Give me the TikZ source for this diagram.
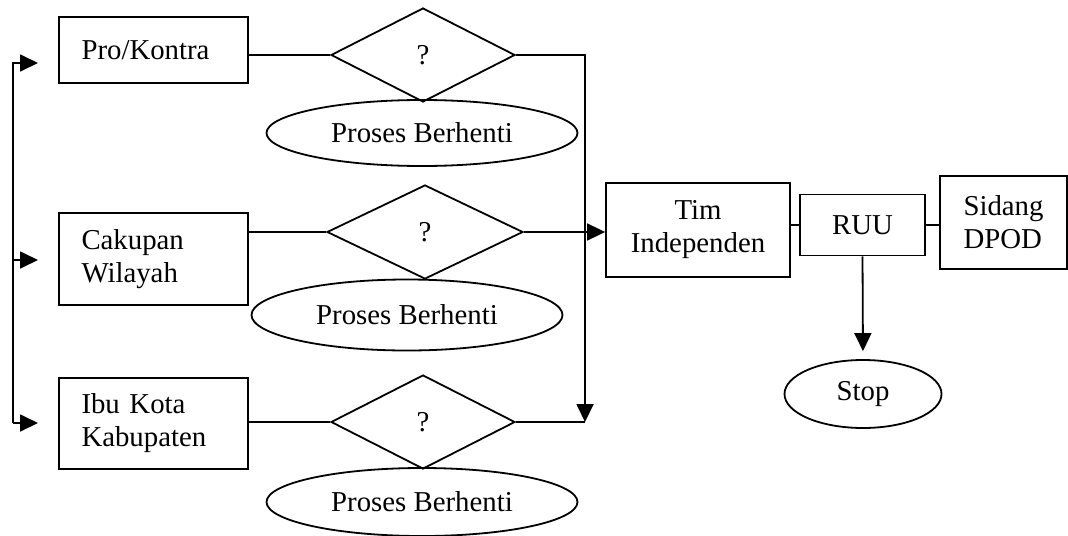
\documentclass[tikz,border=0pt]{standalone}
\usepackage{fontspec}
\setmainfont{Liberation Serif}
\usetikzlibrary{shapes.geometric,arrows.meta}

\begin{document}
\begin{tikzpicture}[x=0.5pt,y=-0.5pt,font=\fontsize{14.4}{16.5}\selectfont]

\tikzset{block/.style = {shape=rectangle,draw,line width=0.9pt,inner ysep=0pt}}
\tikzset{leftblock/.style = {block,align=left,text width=72pt,inner xsep=11.25pt}}
\tikzset{decision/.style = {shape=diamond,draw,line width=0.9pt,inner sep=0pt,minimum width=92pt,minimum height=47pt}}
\tikzset{terminal/.style = {shape=ellipse,draw,line width=0.9pt,inner sep=0pt,minimum width=155.5pt,minimum height=33pt}}
\tikzset{link/.style = {line width=0.9pt}}
\tikzset{flow/.style = {link,-{Triangle[length=9pt,width=8.5pt]}}}

\useasboundingbox (0,0) rectangle (1068,535);

% kriteria
\node[leftblock,minimum height=33pt] (pro) at (153.5,50) {Pro/Kontra};
\node[leftblock,minimum height=46pt] (cakupan) at (153.5,259) {Cakupan\\Wilayah};
\node[leftblock,minimum height=45.5pt] (ibukota) at (153.5,423.5) {Ibu Kota\\Kabupaten};

% keputusan
\node[decision] (d1) at (423,55) {?};
\node[decision,minimum width=98pt] (d2) at (425,232) {?};
\node[decision] (d3) at (423,422) {?};

\node[terminal] (stop1) at (422,133) {Proses Berhenti};
\node[terminal,minimum height=35.5pt] (stop2) at (407,315) {Proses Berhenti};
\node[terminal,minimum height=34pt] (stop3) at (422,502) {Proses Berhenti};

% tahap akhir
\node[block,align=center,minimum width=92pt,minimum height=47pt] (tim) at (698,230) {Tim\\Independen};
\node[block,minimum width=62.5pt,minimum height=30.5pt] (ruu) at (862.5,225) {RUU};
\node[block,align=left,text width=40pt,inner xsep=11.75pt,minimum height=46.5pt] (sidang) at (1003.5,222.5) {Sidang\\DPOD};
\node[terminal,minimum width=78.5pt,minimum height=34pt] (stop) at (863,394) {Stop};

% titik bantu
\coordinate (L1) at (13,63);
\coordinate (L2) at (13,260);
\coordinate (L3) at (13,423);
\coordinate (P1) at (38,63);
\coordinate (P2) at (38,260);
\coordinate (P3) at (38,423);
\coordinate (R1) at (585,55);
\coordinate (R3) at (585,422);

%edges
\draw[flow] (L3) -- (L1) -- (P1);
\draw[flow] (L2) -- (P2);
\draw[flow] (L3) -- (P3);

\draw[link] (pro.east |- d1.west) -- (d1.west);
\draw[link] (cakupan.east |- d2.west) -- (d2.west);
\draw[link] (ibukota.east |- d3.west) -- (d3.west);

\draw[flow] (d1.east) -- (R1) -- (R3);
\draw[link] (d3.east) -- (R3);
\draw[flow] (d2.east) -- (d2.east -| tim.west);

\draw[link] (tim.east |- ruu.west) -- (ruu.west);
\draw[link] (ruu.east) -- (ruu.east -| sidang.west);
\draw[flow,shorten >=4pt] (ruu.south) -- (stop.north);
\end{tikzpicture}
\end{document}
